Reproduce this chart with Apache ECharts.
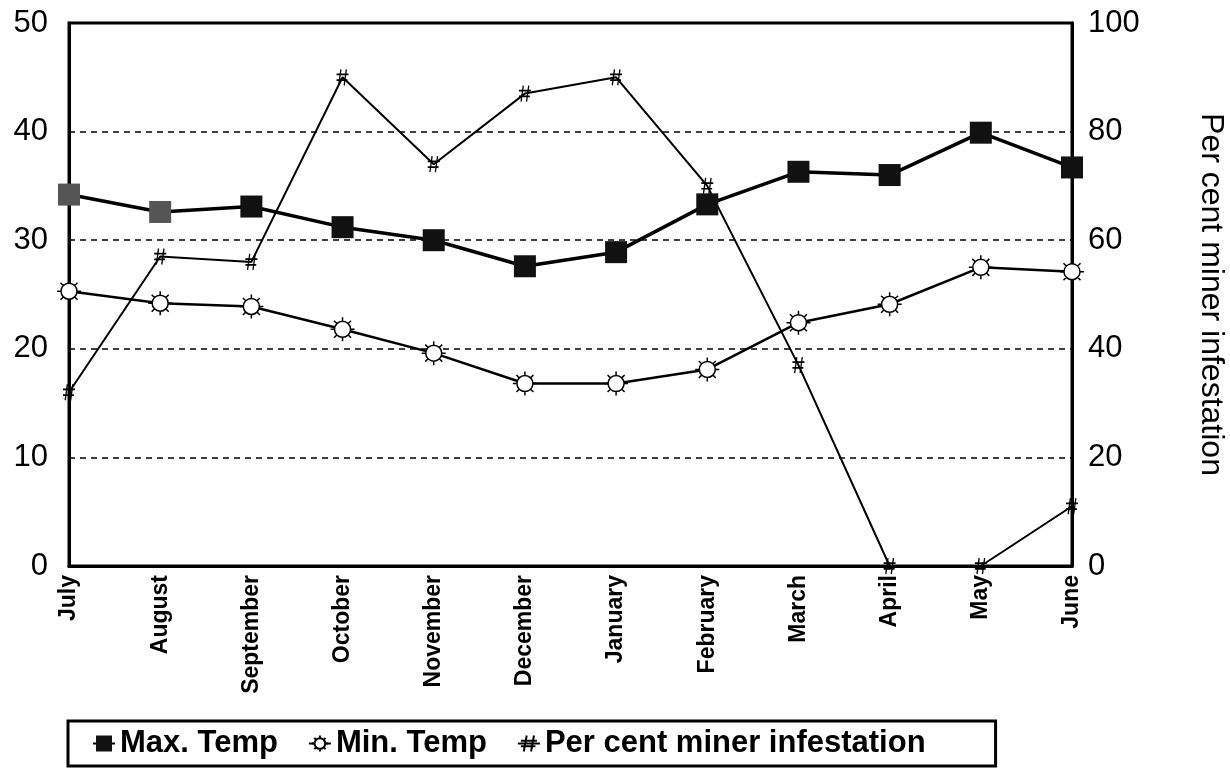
<!DOCTYPE html>
<html><head><meta charset="utf-8">
<script src="https://cdn.jsdelivr.net/npm/echarts@6/dist/echarts.min.js"></script>
<style>html,body{margin:0;padding:0;background:#fff}#c{width:1230px;height:775px}</style>
</head><body><div id="c"></div>
<script>
const months = ['July','August','September','October','November','December','January','February','March','April','May','June'];
const maxTemp = [34.2, 32.6, 33.1, 31.2, 30.0, 27.6, 28.9, 33.3, 36.3, 36.0, 39.9, 36.7];
const minTemp = [25.3, 24.2, 23.9, 21.8, 19.6, 16.8, 16.8, 18.1, 22.4, 24.1, 27.5, 27.1];
const infestation = [32, 57, 56, 90, 74, 87, 90, 70, 37, 0, 0, 11];
const leftTicks = [0, 10, 20, 30, 40, 50];
const rightTicks = [0, 20, 40, 60, 80, 100];

const sunPath = 'path://M12,4 A8,8 0 1,1 11.99,4 Z M12,0 L12,4 M12,20 L12,24 M0,12 L4,12 M20,12 L24,12 M3.5,3.5 L6.3,6.3 M17.7,17.7 L20.5,20.5 M20.5,3.5 L17.7,6.3 M3.5,20.5 L6.3,17.7';
const hashPath = 'path://M4,0 L2,14 M9,0 L7,14 M0,4.5 L11,4.5 M0,9.5 L10,9.5';

const chart = echarts.init(document.getElementById('c'));
const font = 'Liberation Sans, Arial, sans-serif';
chart.setOption({
  animation: false,
  grid: {left: 69, right: 158, top: 23, bottom: 209, show: true, borderColor: '#000', borderWidth: 3, outerBoundsMode: 'none', containLabel: false},
  legend: {
    left: 68, top: 721, orient: 'horizontal',
    data: ['Max. Temp', 'Min. Temp', 'Per cent miner infestation'],
    borderColor: '#000', borderWidth: 3, padding: [7, 70, 7, 24], itemGap: 30,
    itemWidth: 22, itemHeight: 20,
    textStyle: {fontFamily: font, fontWeight: 'bold', fontSize: 31, color: '#000', padding: [0, 0, 0, 0]}
  },
  xAxis: {
    type: 'category', data: months, boundaryGap: false,
    axisLine: {lineStyle: {color: '#000', width: 3}},
    axisTick: {show: false},
    axisLabel: {rotate: 90, fontSize: 23, fontWeight: 'bold', color: '#000', fontFamily: font, margin: 9, interval: 0}
  },
  yAxis: [{
    type: 'value', min: leftTicks[0], max: leftTicks[leftTicks.length-1], interval: 10,
    axisLine: {show: true, lineStyle: {color: '#000', width: 3}},
    axisTick: {show: false},
    axisLabel: {fontSize: 31, color: '#000', fontFamily: font, margin: 21},
    splitLine: {lineStyle: {color: '#000', type: [6, 5], width: 1.5}}
  }, {
    type: 'value', min: rightTicks[0], max: rightTicks[rightTicks.length-1], interval: 20, position: 'right',
    axisLine: {show: true, lineStyle: {color: '#000', width: 3}},
    axisTick: {show: false},
    axisLabel: {fontSize: 31, color: '#000', fontFamily: font, margin: 16},
    splitLine: {show: false},
    name: 'Per cent miner infestation', nameLocation: 'middle', nameRotate: -90, nameGap: 123,
    nameTextStyle: {fontSize: 32, color: '#000', fontFamily: font}
  }],
  series: [{
    name: 'Per cent miner infestation', type: 'line', yAxisIndex: 1, data: infestation,
    symbol: hashPath, symbolSize: [12, 16],
    lineStyle: {color: '#000', width: 2},
    itemStyle: {color: 'none', borderColor: '#000', borderWidth: 1.5},
    z: 2
  }, {
    name: 'Min. Temp', type: 'line', data: minTemp,
    symbol: sunPath, symbolSize: 24,
    lineStyle: {color: '#000', width: 2.5},
    itemStyle: {color: '#fff', borderColor: '#000', borderWidth: 1.5},
    z: 3
  }, {
    name: 'Max. Temp', type: 'line', data: maxTemp.map((v, i) => i < 2 ? {value: v, itemStyle: {color: '#555', borderColor: '#444'}} : v),
    symbol: 'rect', symbolSize: 22,
    lineStyle: {color: '#000', width: 3.5},
    itemStyle: {color: '#111', borderColor: '#111', borderWidth: 0},
    z: 4
  }]
});
</script></body></html>
